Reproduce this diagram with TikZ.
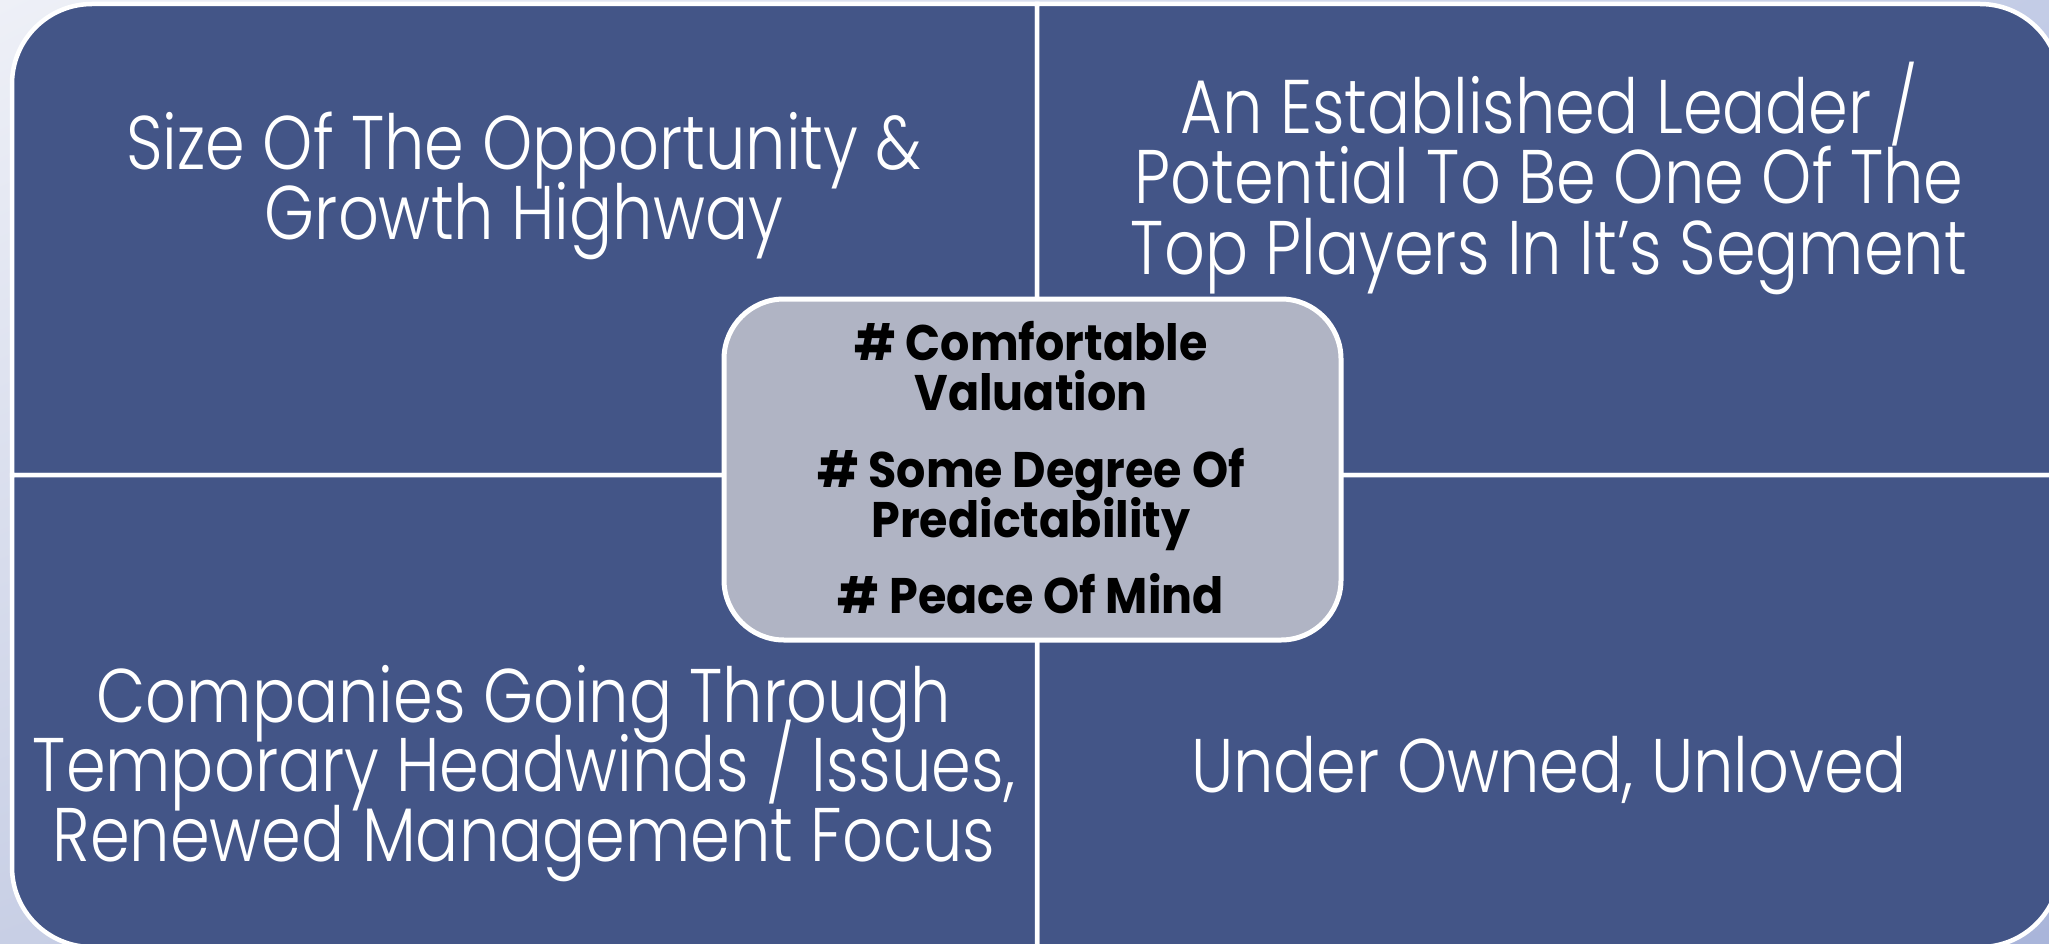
\documentclass[tikz,border=0pt]{standalone}
\usepackage{fontspec}
\usetikzlibrary{shadings}
\setmainfont{Poppins}
\newfontfamily\lightfont{Poppins Light}[FakeStretch=0.84]
\newfontfamily\hubfont{Poppins}[FakeStretch=0.92]
\definecolor{quadfill}{HTML}{435587}
\definecolor{hubfill}{HTML}{B0B4C4}
\definecolor{bgA}{HTML}{EEF0F7}
\definecolor{bgB}{HTML}{C3CCE6}
\definecolor{bgC}{HTML}{C8CFE5}
\definecolor{bgD}{HTML}{A9B5DA}
% fixed line pitch regardless of tall glyphs
\newcommand{\pitch}[2]{\fontsize{#1}{#2}\selectfont\lineskiplimit=-200pt\relax}
\begin{document}
\begin{tikzpicture}[x=1pt,y=-1pt,
  quad/.style={fill=quadfill,draw=white,line width=4.5pt},
  quadtext/.style={text=white,align=center,inner sep=0pt,anchor=base,
    font=\lightfont\pitch{76}{69.5}},
  hubbox/.style={fill=hubfill,draw=white,line width=5pt,rounded corners=60pt,
    minimum width=617pt,minimum height=341pt,inner sep=0pt},
  hubtext/.style={text=black,align=center,inner sep=0pt,anchor=base,
    font=\hubfont\bfseries\pitch{50}{50}}]
\useasboundingbox (0,0) rectangle (2049,944);
\clip (0,0) rectangle (2049,944);
% soft blue-grey backdrop
\shade[upper left=bgA,upper right=bgB,lower left=bgC,lower right=bgD]
  (0,0) rectangle (2049,944);
% the four quadrants, each rounded on its outer corner
\path[quad] (12,475) -- (12,84) arc[start angle=180,end angle=270,radius=80]
  -- (1037,4) -- (1037,475) -- cycle;
\path[quad] (1037,4) -- (1980,4) arc[start angle=270,end angle=360,radius=80]
  -- (2060,475) -- (1037,475) -- cycle;
\path[quad] (1037,475) -- (2060,475) -- (2060,867)
  arc[start angle=0,end angle=90,radius=80] -- (1037,947) -- cycle;
\path[quad] (12,475) -- (1037,475) -- (1037,947) -- (92,947)
  arc[start angle=90,end angle=180,radius=80] -- cycle;
% quadrant captions (anchored on the baseline of their last line)
\node[quadtext] (tl) at (524,239) {Size Of The Opportunity \&\\Growth Highway};
\node[quadtext,font=\lightfont\pitch{76}{70.5}] (tr) at (1549,274)
  {An Established Leader /\\Potential To Be One Of The\\Top Players In It’s Segment};
\node[quadtext] (bl) at (524,861) {Companies Going Through\\Temporary Headwinds / Issues,\\Renewed Management Focus};
\node[quadtext] (br) at (1549,792) {Under Owned, Unloved};
% central box
\node[hubbox] (hub) at (1032.5,469.5) {};
\node[hubtext] (h1) at (1031,410) {\# Comfortable\\Valuation};
\node[hubtext] (h2) at (1031,537) {\# Some Degree Of\\Predictability};
\node[hubtext] (h3) at (1031,613) {\# Peace Of Mind};
\end{tikzpicture}
\end{document}
